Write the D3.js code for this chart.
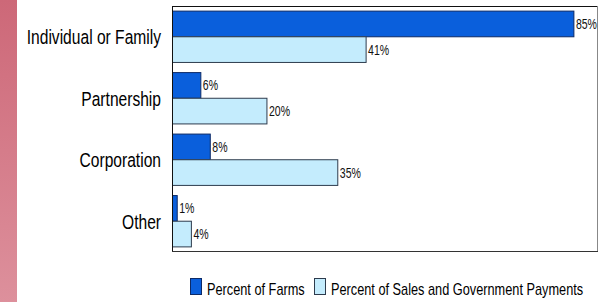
<html>
<head>
<meta charset="utf-8">
<title>Farm Organization</title>
<style>
  body { margin: 0; background: #fff; }
  text { font-family: "Liberation Sans", Arial, sans-serif; }
</style>
<script src="https://d3js.org/d3.v7.min.js"></script>
</head>
<body>
<svg width="608" height="302"></svg>
<script>
var categories = ["Individual or Family", "Partnership", "Corporation", "Other"];
var seriesNames = ["Percent of Farms", "Percent of Sales and Government Payments"];
var farms = [85, 6, 8, 1];
var sales = [41, 20, 35, 4];

var svg = d3.select("svg"),
    margin = {top: 6, right: 11, bottom: 51, left: 172},
    width = +svg.attr("width") - margin.left - margin.right,
    height = +svg.attr("height") - margin.top - margin.bottom;

// pink strip at left
var grad = svg.append("defs").append("linearGradient")
    .attr("id", "strip").attr("x1", 0).attr("y1", 0).attr("x2", 0).attr("y2", 1);
grad.append("stop").attr("offset", "0%").attr("stop-color", "#cd6878");
grad.append("stop").attr("offset", "100%").attr("stop-color", "#dd909c");
svg.append("rect").attr("x", 0).attr("y", 0).attr("width", 17).attr("height", 302)
    .attr("fill", "url(#strip)");

var g = svg.append("g").attr("transform", `translate(${margin.left},${margin.top})`);

var data = categories.map((c, i) => ({cat: c, values: [farms[i], sales[i]]}));

var yScale = d3.scaleBand().domain(categories).range([0, height])
    .paddingInner(0.165).paddingOuter(0.075);
var yIn = d3.scaleBand().domain(seriesNames).range([0, yScale.bandwidth()]);
var xScale = d3.scaleLinear().domain([0, 90]).range([0, width]);
var colors = d3.scaleOrdinal().domain(seriesNames).range(["#0a5fdc", "#c4ecfd"]);
var strokes = ["#0d2a66", "#2d3b4d"];

// frame
g.append("rect").attr("x", 0.5).attr("y", 0.5).attr("width", width).attr("height", height)
    .attr("fill", "none").attr("stroke", "#888").attr("stroke-width", 1);
g.append("line").attr("x1", 0).attr("x2", width).attr("y1", 0.5).attr("y2", 0.5)
    .attr("stroke", "#111");

var groups = g.selectAll("g.groups")
    .data(data)
    .enter().append("g")
    .attr("class", "groups")
    .attr("transform", d => `translate(0,${yScale(d.cat)})`);

var bars = groups.selectAll("g.bar")
    .data(d => d.values.map((v, i) => ({key: seriesNames[i], value: v, i: i})))
    .enter().append("g").attr("class", "bar");

bars.append("rect")
    .attr("x", 0.5)
    .attr("y", d => yIn(d.key) + 0.5)
    .attr("width", d => xScale(d.value))
    .attr("height", yIn.bandwidth())
    .attr("fill", d => colors(d.key))
    .attr("stroke", d => strokes[d.i])
    .attr("stroke-width", 1);

// value labels, squeezed to look like the narrow original font
bars.append("text")
    .attr("transform", d => `translate(${xScale(d.value) + 2.5},${yIn(d.key) + yIn.bandwidth() / 2 + 5.5}) scale(0.68,1)`)
    .style("font-size", "15.5px")
    .attr("fill", "#111")
    .text(d => d.value + "%");

// left axis line
g.append("line").attr("x1", 0.5).attr("x2", 0.5).attr("y1", 0).attr("y2", height + 1)
    .attr("stroke", "#111");
g.append("line").attr("x1", 0).attr("x2", width + 1).attr("y1", height + 0.5).attr("y2", height + 0.5)
    .attr("stroke", "#333");

// category labels
g.append("g")
    .attr("transform", "translate(-11,0)")
    .call(d3.axisLeft(yScale).tickSize(0).tickPadding(0))
    .call(a => a.select(".domain").remove())
    .selectAll("text")
    .style("font-size", "19.5px")
    .attr("font-family", "'Liberation Sans', Arial, sans-serif")
    .attr("dy", "0.4em")
    .attr("transform", "scale(0.8,1)")
    .attr("fill", "#000");

// legend
var legendX = [190, 314];
var legend = svg.append("g").selectAll("g")
    .data(seriesNames)
    .enter().append("g")
    .attr("transform", (d, i) => `translate(${legendX[i]},278)`);
legend.append("rect")
    .attr("x", 0.5).attr("y", 0.5)
    .attr("width", 11).attr("height", 16)
    .attr("fill", d => colors(d))
    .attr("stroke", (d, i) => strokes[i]);
legend.append("text")
    .attr("transform", "translate(17,17) scale(0.75,1)")
    .style("font-size", "17px")
    .attr("fill", "#000")
    .text(d => d);
</script>
</body>
</html>
